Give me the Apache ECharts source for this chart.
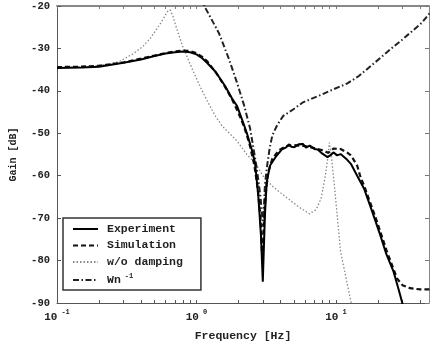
<!DOCTYPE html>
<html>
<head>
<meta charset="utf-8">
<script src="https://cdn.jsdelivr.net/npm/echarts@6/dist/echarts.min.js"></script>
<style>
  html, body { margin: 0; padding: 0; background: #fff; }
  #chart { width: 430px; height: 347px; }
</style>
</head>
<body>
<div id="chart"></div>
<script>
// Experiment (measured)
const expFreq = [0.1, 0.15, 0.2, 0.3, 0.4, 0.5, 0.6, 0.7, 0.8, 0.9, 1.0, 1.1, 1.2, 1.37, 1.6, 1.8, 1.95, 2.12, 2.3, 2.5, 2.63, 2.78, 2.9, 2.99, 3.05, 3.1, 3.19, 3.37, 3.75, 4.1, 4.4, 4.6, 4.8, 5.03, 5.4, 5.8, 6.1, 6.5, 7.0, 7.4, 8.0, 8.7, 9.2, 9.6, 10.2, 10.8, 12, 12.8, 14.2, 15.9, 18, 20.8, 23, 25.9, 28, 29.7, 31];
const expGain = [-34.6, -34.5, -34.3, -33.4, -32.6, -31.8, -31.2, -30.9, -30.7, -30.9, -31.4, -32.3, -33.5, -35.5, -38.8, -41.8, -43.5, -46.7, -50, -54, -57, -65, -74, -85, -76, -69, -61.5, -57.6, -55.3, -53.8, -53.3, -52.6, -53.2, -53.3, -52.6, -52.5, -53.4, -52.9, -53.7, -53.8, -54.8, -55.6, -55.1, -54.5, -55.2, -54.9, -56.2, -57.2, -60, -63, -68, -74, -78.5, -82.6, -86.5, -89.6, -92];

// Simulation
const simFreq = [0.1, 0.15, 0.2, 0.3, 0.4, 0.5, 0.6, 0.7, 0.8, 0.9, 1.0, 1.1, 1.2, 1.4, 1.6, 1.8, 2.0, 2.2, 2.4, 2.6, 2.75, 2.88, 2.97, 3.04, 3.12, 3.25, 3.5, 3.9, 4.4, 5.0, 6.0, 7.0, 8.0, 8.8, 9.6, 10.8, 12, 12.8, 14.2, 15, 16, 19.8, 23, 25.9, 27.4, 30, 34, 40, 47];
const simGain = [-34.4, -34.3, -34.1, -33.3, -32.4, -31.7, -31.1, -30.7, -30.5, -30.6, -31.1, -32.0, -33.1, -36.0, -39.0, -42.0, -45.2, -48.5, -52.5, -57.5, -63, -70, -80, -72, -65, -59.5, -56, -54, -53, -52.8, -53, -53.5, -54, -54.6, -53.6, -53.7, -54.5, -55.2, -57.6, -60.3, -62.5, -71, -77.5, -82, -84.2, -85.8, -86.5, -86.8, -86.8];

// w/o damping
const nodFreq = [0.1, 0.15, 0.2, 0.25, 0.283, 0.35, 0.414, 0.47, 0.514, 0.56, 0.59, 0.62, 0.647, 0.68, 0.713, 0.796, 0.937, 1.07, 1.2, 1.37, 1.53, 1.95, 2.3, 2.63, 3.0, 3.46, 4.0, 4.53, 5.5, 6.47, 7.2, 7.83, 8.4, 8.73, 8.97, 9.25, 9.75, 10.8, 12.8, 14];
const nodGain = [-34.5, -34.3, -34, -33.5, -33, -31.3, -29.5, -27.5, -25.6, -23.8, -22.5, -21.3, -20.9, -22.5, -24.8, -29.5, -35, -39.2, -42.5, -46, -48.3, -51.8, -55, -57, -60, -62.3, -64, -65.4, -67.5, -69, -68, -65.4, -60, -56, -52.2, -55, -62.3, -77.9, -89.6, -96];

// Wn^-1
const wnFreq = [1.0, 1.16, 1.45, 1.71, 1.95, 2.2, 2.43, 2.7, 2.88, 3.0, 3.1, 3.2, 3.35, 3.5, 3.8, 4.19, 4.93, 5.81, 7.5, 9.48, 12, 14.6, 18, 21.4, 25, 29.7, 35, 41.2, 47];
const wnGain = [-15, -20.5, -26.4, -32.5, -38, -43.5, -49, -58, -65, -72, -62, -58, -53.5, -50.5, -48, -45.9, -44.4, -42.7, -41.2, -39.7, -38.3, -36.5, -34, -31.9, -30, -28, -26, -24, -21.7];

const majorTicks = [0.1, 1, 10];
const minorTicks = [0.2, 0.3, 0.4, 0.5, 0.6, 0.7, 0.8, 0.9, 2, 3, 4, 5, 6, 7, 8, 9, 20, 30, 40];

const X_MIN = 0.1;
const X_MAX = 46.5;
const FONT = '"Liberation Mono", "DejaVu Sans Mono", monospace';

const zip = (xs, ys) => xs.map((x, i) => [x, ys[i]]);

const chart = echarts.init(document.getElementById('chart'));

const tickLabel = (v) => {
  const e = Math.round(Math.log10(v));
  return '{b|10}{e|' + e + '}';
};

const option = {
  animation: false,
  backgroundColor: '#fff',
  textStyle: { fontFamily: FONT },
  grid: { left: 53, right: 1, top: 6, bottom: 42 },
  legend: {
    orient: 'vertical',
    left: 63,
    top: 218,
    padding: [5, 18, 4, 9],
    itemGap: 4.5,
    itemWidth: 25,
    itemHeight: 12,
    borderColor: '#333',
    borderWidth: 1.5,
    borderRadius: 0,
    backgroundColor: '#fff',
    itemStyle: { opacity: 0 },
    textStyle: {
      fontFamily: FONT,
      fontSize: 11.5,
      fontWeight: 'bold',
      color: '#222',
      padding: [0, 0, 0, 4],
      rich: {
        t: { fontFamily: FONT, fontSize: 11.5, fontWeight: 'bold', color: '#222' },
        s: { fontFamily: FONT, fontSize: 7, fontWeight: 'bold', color: '#222', padding: [0, 0, 8, 4] }
      }
    },
    formatter: (name) => (name === 'Wn-1' ? '{t|Wn}{s|-1}' : name),
    data: ['Experiment', 'Simulation', 'w/o damping', 'Wn-1']
  },
  xAxis: [
    {
      type: 'log',
      logBase: 10,
      min: X_MIN,
      max: X_MAX,
      name: 'Frequency [Hz]',
      nameLocation: 'middle',
      nameGap: 27,
      nameTextStyle: { fontFamily: FONT, fontSize: 11.5, fontWeight: 'bold', color: '#222' },
      axisLine: { show: true, lineStyle: { color: '#555', width: 1 } },
      axisTick: {
        show: true,
        inside: true,
        length: 3,
        customValues: majorTicks.concat(minorTicks),
        lineStyle: { color: '#555' }
      },
      axisLabel: {
        customValues: majorTicks,
        margin: 6,
        formatter: tickLabel,
        rich: {
          b: { fontFamily: FONT, fontSize: 11, fontWeight: 'bold', color: '#222' },
          e: { fontFamily: FONT, fontSize: 7, fontWeight: 'bold', color: '#222', padding: [0, 0, 9, 4] }
        }
      },
      splitLine: { show: false }
    },
    {
      type: 'log',
      logBase: 10,
      min: X_MIN,
      max: X_MAX,
      position: 'top',
      axisLine: { show: true, lineStyle: { color: '#888', width: 2 } },
      axisTick: {
        show: true,
        inside: true,
        length: 3,
        customValues: majorTicks.concat(minorTicks),
        lineStyle: { color: '#777' }
      },
      axisLabel: { show: false },
      splitLine: { show: false }
    }
  ],
  yAxis: [
    {
      type: 'value',
      min: -90,
      max: -20,
      interval: 10,
      name: 'Gain [dB]',
      nameLocation: 'middle',
      nameGap: 39,
      nameTextStyle: { fontFamily: FONT, fontSize: 10, fontWeight: 'bold', color: '#222' },
      axisLine: { show: true, lineStyle: { color: '#555', width: 1 } },
      axisTick: { show: true, inside: true, length: 4, lineStyle: { color: '#555' } },
      axisLabel: { fontFamily: FONT, fontSize: 10.5, fontWeight: 'bold', color: '#222', margin: 7 },
      splitLine: { show: false }
    },
    {
      type: 'value',
      min: -90,
      max: -20,
      interval: 10,
      position: 'right',
      axisLine: { show: true, lineStyle: { color: '#888', width: 1 } },
      axisTick: { show: true, inside: true, length: 4, lineStyle: { color: '#777' } },
      axisLabel: { show: false },
      splitLine: { show: false }
    }
  ],
  series: [
    {
      name: 'w/o damping',
      type: 'line',
      symbol: 'none',
      clip: true,
      data: zip(nodFreq, nodGain),
      lineStyle: { color: '#888', width: 1.3, type: [1.5, 2] },
      itemStyle: { color: '#888' },
      z: 2
    },
    {
      name: 'Wn-1',
      type: 'line',
      symbol: 'none',
      clip: true,
      data: zip(wnFreq, wnGain),
      lineStyle: { color: '#222', width: 2, type: [6, 2.5, 1.5, 2.5] },
      itemStyle: { color: '#222' },
      z: 3
    },
    {
      name: 'Simulation',
      type: 'line',
      symbol: 'none',
      clip: true,
      data: zip(simFreq, simGain),
      lineStyle: { color: '#111', width: 2.2, type: [5, 3] },
      itemStyle: { color: '#111' },
      z: 4
    },
    {
      name: 'Experiment',
      type: 'line',
      symbol: 'none',
      clip: true,
      data: zip(expFreq, expGain),
      lineStyle: { color: '#000', width: 2, type: 'solid' },
      itemStyle: { color: '#000' },
      z: 5
    }
  ]
};

chart.setOption(option);
</script>
</body>
</html>
